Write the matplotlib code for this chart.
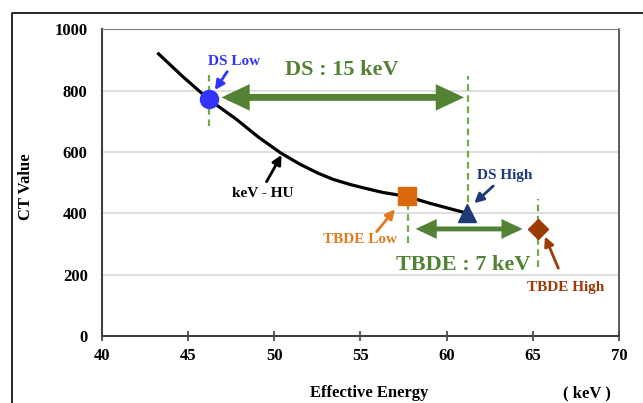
import matplotlib.pyplot as plt
from matplotlib.lines import Line2D

plt.rcParams['font.family'] = ['Liberation Serif', 'DejaVu Serif']
plt.rcParams['font.weight'] = 'bold'

# curva keV - HU
energia = [43.3, 44.7, 46.2, 47.8, 49.1, 50.4, 51.5, 52.5, 53.4, 54.4, 55.4, 56.3, 57.7, 59.0, 61.2]
ct = [920, 846, 772, 707, 648, 596, 560, 532, 511, 494, 480, 468, 455, 433, 400]

# pontos marcados
ds_low = (46.2, 772)
ds_high = (61.2, 400)
tbde_low = (57.7, 455)
tbde_high = (65.3, 349)

x_ticks = [40, 45, 50, 55, 60, 65, 70]
y_ticks = [0, 200, 400, 600, 800, 1000]

verde = '#548235'
verde_claro = '#70ad47'

fig = plt.figure(figsize=(6.43, 4.03), dpi=100)
ax = fig.add_axes([0.158, 0.1663, 0.805, 0.761])

ax.set_xlim(40, 70)
ax.set_ylim(0, 1000)
ax.set_xticks(x_ticks)
ax.set_yticks(y_ticks)
ax.tick_params(axis='x', direction='inout', length=7, width=1.2, pad=5, labelsize=12, color='#404040')
ax.tick_params(axis='y', length=0, pad=10, labelsize=12)
ax.grid(axis='y', color='#d9d9d9', lw=1.2)
ax.set_axisbelow(True)
for s in ['left', 'bottom']:
    ax.spines[s].set_color('#404040')
    ax.spines[s].set_linewidth(1.5)
ax.spines['top'].set_color('#808080')
ax.spines['right'].set_color('#404040')
ax.spines['right'].set_linewidth(1.2)

# linhas tracejadas verticais
tr = dict(color=verde_claro, lw=1.6, ls=(0, (3, 2)), zorder=2)
ax.plot([ds_low[0], ds_low[0]], [685, 851], **tr)
ax.plot([ds_high[0] + 0.05, ds_high[0] + 0.05], [ds_high[1], 848], **tr)
ax.plot([tbde_low[0] + 0.05, tbde_low[0] + 0.05], [303, tbde_low[1]], **tr)
ax.plot([tbde_high[0], tbde_high[0]], [226, 447], **tr)

ax.plot(energia, ct, color='black', lw=2.3, zorder=3)

ax.plot(*ds_low, 'o', color='#3333ff', ms=13, zorder=4)
ax.plot(*ds_high, '^', color='#1f3a78', ms=13, zorder=4)
ax.plot(*tbde_low, 's', color='#d9690b', ms=13, zorder=4)
ax.plot(*tbde_high, 'D', color='#9c3a08', ms=10, zorder=4)

# setas grandes
ax.annotate('', xy=(61.0, 778), xytext=(46.95, 778),
            arrowprops=dict(arrowstyle='<|-|>,head_length=0.85,head_width=0.4', lw=5,
                            color=verde, mutation_scale=14, shrinkA=0, shrinkB=0, joinstyle='miter'))
ax.annotate('', xy=(64.4, 349), xytext=(58.2, 349),
            arrowprops=dict(arrowstyle='<|-|>,head_length=0.85,head_width=0.4', lw=3.5,
                            color=verde, mutation_scale=11, shrinkA=0, shrinkB=0, joinstyle='miter'))
ax.text(53.95, 868, 'DS : 15 keV', color=verde, fontsize=16, ha='center', va='center')
ax.text(60.95, 232, 'TBDE : 7 keV', color=verde, fontsize=16, ha='center', va='center')

# rótulos com setas pequenas
def rotulo(txt, pos, cauda, ponta, cor):
    ax.text(pos[0], pos[1], txt, color=cor, fontsize=11, ha='center', va='center')
    ax.annotate('', xy=ponta, xytext=cauda,
                arrowprops=dict(arrowstyle='-|>,head_length=0.55,head_width=0.28', lw=2,
                                color=cor, mutation_scale=10, shrinkA=0, shrinkB=0))

rotulo('DS Low', (47.67, 895), (47.28, 862), (46.57, 802), '#3333ff')
rotulo('keV - HU', (49.36, 466), (49.56, 503), (50.43, 590), 'black')
rotulo('DS High', (63.36, 522), (62.7, 489), (61.6, 433), '#1f3a78')
rotulo('TBDE Low', (54.95, 315), (55.94, 340), (57.0, 413), '#e07b20')
rotulo('TBDE High', (66.89, 159), (66.47, 221), (65.7, 324), '#9c3a08')

fig.text(26 / 643, 1 - 187 / 403, 'CT Value', rotation=90, fontsize=12, ha='center', va='center')
fig.text(369 / 643, 1 - 393 / 403, 'Effective Energy', fontsize=12, ha='center', va='center')
fig.text(587 / 643, 1 - 393 / 403, '( keV )', fontsize=12, ha='center', va='center')

# moldura externa
fig.add_artist(Line2D([12 / 643, 12 / 643, 1], [0, 1 - 12.5 / 403, 1 - 12.5 / 403],
                      transform=fig.transFigure, color='black', lw=1.2))

fig.savefig('out.png', dpi=100)
